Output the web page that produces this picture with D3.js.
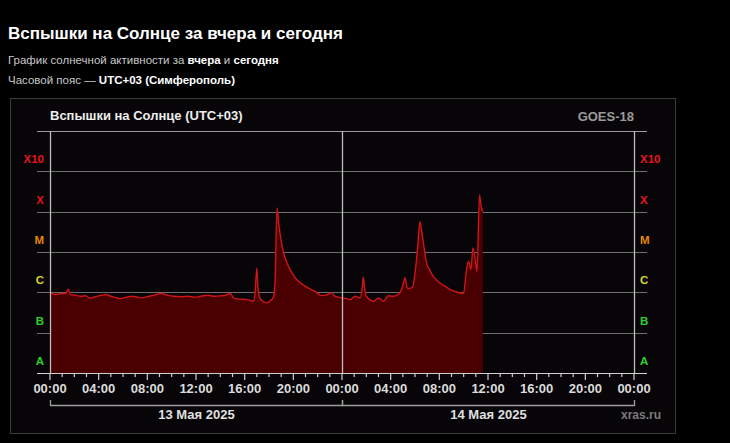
<!DOCTYPE html>
<html><head><meta charset="utf-8">
<script src="https://cdn.jsdelivr.net/npm/d3@7"></script>
<style>
html,body{margin:0;padding:0;background:#000;}
body{width:730px;height:443px;overflow:hidden;font-family:"Liberation Sans",Arial,sans-serif;}
</style></head>
<body>
<svg id="c" width="730" height="443"></svg>
<script>
// ---- data ----
const flareHours = [0.0,0.4,0.9,1.3,1.5,1.7,2.1,2.5,2.9,3.3,3.7,4.2,4.6,5.0,5.3,5.75,6.2,6.7,7.2,7.6,8.0,8.6,9.1,9.7,10.2,10.8,11.3,11.9,12.4,13.0,13.5,14.0,14.5,14.8,15.1,15.6,16.2,16.7,16.85,17.0,17.1,17.25,17.5,17.8,18.1,18.35,18.5,18.66,18.8,19.0,19.2,19.4,19.6,19.85,20.1,20.5,21.0,21.4,21.8,22.3,22.7,23.15,23.4,23.7,24.0,
 24.4,24.66,25.07,25.5,25.65,25.75,25.85,26.0,26.6,27.0,27.4,27.8,28.2,28.6,28.9,29.05,29.2,29.35,29.5,29.8,30.0,30.2,30.4,30.55,30.7,30.95,31.2,31.5,32.05,32.5,32.9,33.3,33.7,34.0,34.2,34.4,34.6,34.76,34.95,35.1,35.3,35.45,35.57];
const flareFlux = [0.98e-6,0.88e-6,0.93e-6,0.95e-6,1.2e-6,0.88e-6,0.85e-6,0.80e-6,0.82e-6,0.72e-6,0.78e-6,0.84e-6,0.88e-6,0.80e-6,0.76e-6,0.70e-6,0.75e-6,0.80e-6,0.76e-6,0.73e-6,0.78e-6,0.86e-6,0.94e-6,0.84e-6,0.80e-6,0.78e-6,0.80e-6,0.76e-6,0.80e-6,0.85e-6,0.80e-6,0.82e-6,0.86e-6,0.95e-6,0.72e-6,0.68e-6,0.66e-6,0.60e-6,0.9e-6,4.0e-6,1.2e-6,0.72e-6,0.60e-6,0.55e-6,0.62e-6,0.75e-6,2.0e-6,1.24e-4,5.0e-5,1.9e-5,9.6e-6,6.2e-6,4.4e-6,3.2e-6,2.4e-6,1.8e-6,1.4e-6,1.2e-6,1.06e-6,0.83e-6,0.85e-6,0.97e-6,0.80e-6,0.76e-6,0.73e-6,
 0.70e-6,0.66e-6,0.80e-6,0.73e-6,1.2e-6,2.4e-6,1.3e-6,0.80e-6,0.60e-6,0.73e-6,0.60e-6,0.82e-6,0.80e-6,0.88e-6,1.2e-6,1.7e-6,2.3e-6,1.3e-6,1.25e-6,1.35e-6,3e-6,1.1e-5,5.6e-5,3.3e-5,1.6e-5,5.4e-6,3.6e-6,2.5e-6,1.7e-6,1.4e-6,1.17e-6,1.05e-6,0.97e-6,0.94e-6,3.0e-6,5.9e-6,3.7e-6,1.26e-5,6.5e-6,3.3e-6,2.6e-4,1.3e-4,1.0e-4];
const levelValues = [1e-8,1e-7,1e-6,1e-5,1e-4,1e-3];
const levelLabels = ["A","B","C","M","X","X10"];
const levelColors = ["#2fcf2f","#2fcf2f","#d6d62a","#e8870e","#e8141c","#e8141c"];
const dayLabels = ["13 Мая 2025","14 Мая 2025"];
const hourTicks = d3.range(0,49,1);
const labelTicks = d3.range(0,49,4);

// ---- chart ----
const svg = d3.select("#c");
const x = d3.scaleLinear().domain([0,48]).range([50,634]);
const y = d3.scaleLog().domain([1e-8,1e-2]).range([373,131]);
const F = "'Liberation Sans',Arial,sans-serif";

// header
svg.append("text").attr("x",8).attr("y",39).attr("fill","#fff").attr("font-family",F)
  .attr("font-size",17).attr("font-weight","bold").text("Вспышки на Солнце за вчера и сегодня");
const s1 = svg.append("text").attr("x",8).attr("y",64).attr("font-family",F).attr("font-size",11.5).attr("fill","#c8c8c8");
s1.append("tspan").text("График солнечной активности за ");
s1.append("tspan").attr("font-weight","bold").attr("fill","#fff").text("вчера");
s1.append("tspan").text(" и ");
s1.append("tspan").attr("font-weight","bold").attr("fill","#fff").text("сегодня");
const s2 = svg.append("text").attr("x",8).attr("y",84).attr("font-family",F).attr("font-size",11.5).attr("fill","#c8c8c8");
s2.append("tspan").text("Часовой пояс — ");
s2.append("tspan").attr("font-weight","bold").attr("fill","#fff").text("UTC+03 (Симферополь)");

// panel
svg.append("rect").attr("x",10.5).attr("y",98.5).attr("width",665).attr("height",335)
  .attr("fill","#070507").attr("stroke","#3a3a3a");

svg.append("text").attr("x",50).attr("y",120).attr("fill","#eee").attr("font-family",F)
  .attr("font-size",13).attr("font-weight","bold").text("Вспышки на Солнце (UTC+03)");
svg.append("text").attr("x",634).attr("y",121).attr("text-anchor","end").attr("fill","#9a9a9a").attr("font-family",F)
  .attr("font-size",13).attr("font-weight","bold").text("GOES-18");

// horizontal grid
const gridVals = levelValues.slice(1).concat([1e-2]);
svg.append("g").selectAll("line").data(gridVals).join("line")
  .attr("x1",37).attr("x2",647)
  .attr("y1",d=>Math.round(y(d))+0.5).attr("y2",d=>Math.round(y(d))+0.5)
  .attr("stroke",(d)=>d===1e-2?"#9a9a9a":"#6e6e6e").attr("stroke-width",1);

// area + line
const pts = flareHours.map((h,i)=>[h,flareFlux[i]]);
const cv = d3.curveMonotoneX;
svg.append("path").datum(pts)
  .attr("d",d3.area().curve(cv).x(d=>x(d[0])).y0(y(1e-8)).y1(d=>y(d[1])))
  .attr("fill","#4a0000");
svg.append("path").datum(pts)
  .attr("d",d3.line().curve(cv).x(d=>x(d[0])).y(d=>y(d[1])))
  .attr("fill","none").attr("stroke","#d01418").attr("stroke-width",1.4).attr("stroke-linejoin","round");

// vertical lines
[0,24,48].forEach(h=>{
  svg.append("line").attr("x1",Math.round(x(h))+0.5).attr("x2",Math.round(x(h))+0.5)
    .attr("y1",131).attr("y2",373).attr("stroke","#bdbdbd").attr("stroke-width",1.3);
});

// bottom axis
svg.append("line").attr("x1",37).attr("x2",647).attr("y1",373.5).attr("y2",373.5).attr("stroke","#d0d0d0");
svg.append("g").selectAll("line").data(hourTicks).join("line")
  .attr("x1",d=>x(d)).attr("x2",d=>x(d)).attr("y1",373)
  .attr("y2",d=>d%4===0?380:377).attr("stroke","#d0d0d0").attr("stroke-width",1.2);
svg.append("g").selectAll("text").data(labelTicks).join("text")
  .attr("x",d=>x(d)).attr("y",393).attr("text-anchor","middle").attr("fill","#dcdcdc")
  .attr("font-family",F).attr("font-size",13).attr("font-weight","bold")
  .text(d=>String(d%24).padStart(2,"0")+":00");

// y labels
const lab = svg.append("g").attr("font-family",F).attr("font-size",11.5).attr("font-weight","bold");
levelValues.forEach((v,i)=>{
  lab.append("text").attr("x",44).attr("y",y(v)-8).attr("text-anchor","end").attr("fill",levelColors[i]).text(levelLabels[i]);
  lab.append("text").attr("x",640).attr("y",y(v)-8).attr("fill",levelColors[i]).text(levelLabels[i]);
});

// day brackets
[[0,24],[24,48]].forEach((r,i)=>{
  const x0=Math.round(x(r[0]))+0.5, x1=Math.round(x(r[1]))+0.5;
  svg.append("path").attr("d",`M${x0},400V405.5H${x1}V400`).attr("fill","none").attr("stroke","#a0a0a0").attr("stroke-width",1.3);
  svg.append("text").attr("x",(x0+x1)/2).attr("y",419).attr("text-anchor","middle").attr("fill","#e0e0e0")
    .attr("font-family",F).attr("font-size",13).attr("font-weight","bold").text(dayLabels[i]);
});
svg.append("text").attr("x",661).attr("y",419).attr("text-anchor","end").attr("fill","#7a7a7a")
  .attr("font-family",F).attr("font-size",12).attr("font-weight","bold").text("xras.ru");
</script>
</body></html>
